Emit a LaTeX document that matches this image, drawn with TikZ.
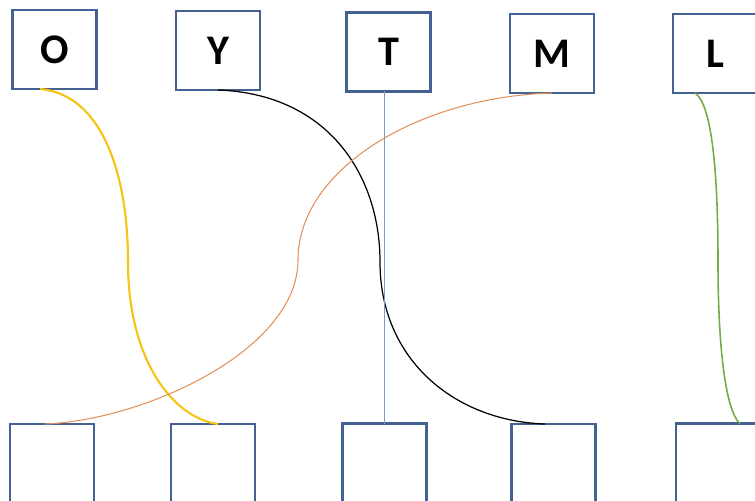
\documentclass[tikz,border=0pt]{standalone}
\usepackage{fontspec}
\setmainfont{Carlito}
\usepackage{tikz,xcolor}
\usetikzlibrary{calc}

\definecolor{boxblue}{RGB}{68,98,145}
\definecolor{goldline}{RGB}{245,195,20}
\definecolor{orangeline}{RGB}{225,145,90}
\definecolor{paleblue}{RGB}{125,155,200}
\definecolor{greenline}{RGB}{112,173,71}

\tikzset{
  letterbox/.style={draw=boxblue, line width=1.2pt, minimum width=1.68cm,
    minimum height=1.58cm, inner sep=0pt, outer sep=0pt,
    font=\fontsize{24}{28}\selectfont\bfseries},
}

\begin{document}
\begin{tikzpicture}[x=0.02cm,y=-0.02cm]
  \useasboundingbox (0,0) rectangle (755,501);
  \clip (0,0) rectangle (755,501);
% Draw the top row of letter boxes
  \node[letterbox] (topO) at (54.5,49.5) {O};
  \node[letterbox] (topY) at (218,50.5) {Y};
  \node[letterbox] (topT) at (388.5,52) {T};
  \node[letterbox] (topM) at (552,53.5) {M};
  \node[letterbox] (topL) at (715,53.5) {L};
% Draw the empty bottom row
  \node[letterbox] (botA) at (52,463.5) {};
  \node[letterbox] (botB) at (213,463.5) {};
  \node[letterbox] (botC) at (384.5,463) {};
  \node[letterbox] (botD) at (553.5,463.5) {};
  \node[letterbox] (botE) at (718,463) {};

% Draw the crossing curves
  \draw[goldline, line width=1.2pt] ([xshift=-0.29cm]topO.south)
    .. controls +(60,5) and (128,170) .. (128,262)
    .. controls (128,360) and +(-45,-6) .. ([xshift=0.1cm]botB.north);
  \draw[black, line width=0.7pt] (topY.south)
    .. controls +(110,4) and (380,175) .. (380,262)
    .. controls (380,360) and +(-90,-3) .. ([xshift=-0.17cm]botD.north);
  \draw[orangeline, line width=0.6pt] (topM.south)
    .. controls +(-135,4) and (298,170) .. (298,260)
    .. controls (298,350) and +(100,-4) .. ([xshift=-0.14cm]botA.north);
  \draw[paleblue, line width=0.6pt] (botC.north) -- (botC.north |- topT.south);
  \draw[greenline, line width=0.9pt] ([xshift=-0.4cm]topL.south)
    .. controls +(18,12) and (718,180) .. (718,262)
    .. controls (718,350) and +(-14,-12) .. ([xshift=0.44cm]botE.north);
\end{tikzpicture}
\end{document}
